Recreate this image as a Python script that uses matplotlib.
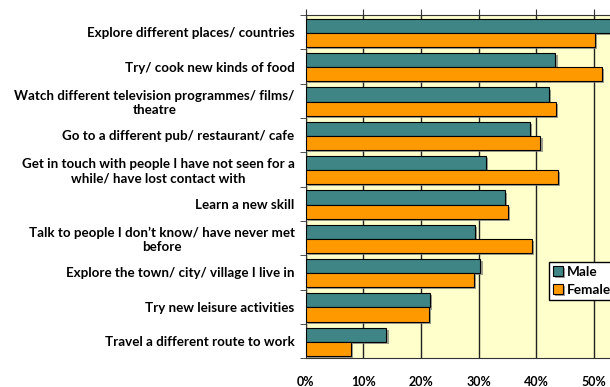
import matplotlib
matplotlib.use('Agg')
import matplotlib.pyplot as plt
import matplotlib.patheffects as pe
import numpy as np

categories = [
    'Explore different places/ countries',
    'Try/ cook new kinds of food',
    'Watch different television programmes/ films/\ntheatre',
    'Go to a different pub/ restaurant/ cafe',
    'Get in touch with people I have not seen for a\nwhile/ have lost contact with',
    'Learn a new skill',
    'Talk to people I don\u2019t know/ have never met\nbefore',
    'Explore the town/ city/ village I live in',
    'Try new leisure activities',
    'Travel a different route to work',
]
male = [54.0, 43.3, 42.2, 38.9, 31.3, 34.6, 29.4, 30.3, 21.5, 14.0]
female = [50.1, 51.4, 43.4, 40.7, 43.8, 35.1, 39.2, 29.1, 21.4, 7.9]
xticks = [0, 10, 20, 30, 40, 50]

plt.rcParams['font.family'] = ['Lato', 'DejaVu Sans']
plt.rcParams['font.weight'] = 'bold'

fig = plt.figure(figsize=(6.1, 3.87), dpi=100)
ax = fig.add_axes([0.5011, 0.0742, 0.5675, 0.887])
ax.set_facecolor('#ffffcc')

y = np.arange(len(categories))
shadow = [pe.SimplePatchShadow(offset=(1.5, -1.5), shadow_rgbFace='#777777', alpha=0.7), pe.Normal()]
b1 = ax.barh(y - 0.185, male, height=0.41, color='#3f8585', edgecolor='black', lw=0.8, label='Male', zorder=3)
b2 = ax.barh(y + 0.225, female, height=0.41, color='#ff9900', edgecolor='black', lw=0.8, label='Female', zorder=3)
for b in list(b1) + list(b2):
    b.set_path_effects(shadow)

ax.set_xlim(0, 60)
ax.set_ylim(len(categories) - 0.5, -0.5)
ax.set_xticks(xticks)
ax.set_xticklabels([f'{t}%' for t in xticks], fontsize=9, fontweight='bold')
for t in xticks:
    ax.axvline(t, color='#222222', lw=1, zorder=1)

ax.set_yticks(y)
ax.set_yticklabels(categories, fontsize=9.6, fontweight='bold', multialignment='center')
ax.set_yticks(np.arange(len(categories) + 1) - 0.5, minor=True)
ax.tick_params(axis='y', which='major', length=0, pad=8)
ax.tick_params(axis='y', which='minor', length=4, direction='out', color='#333333')
ax.tick_params(axis='x', which='major', top=True, bottom=False, length=4, pad=9, color='#333333')

for s in ax.spines.values():
    s.set_color('#333333')

fig.legend(loc='upper left', bbox_to_anchor=(549 / 610, 1 - 261.5 / 387), borderaxespad=0,
           frameon=True, fancybox=False, edgecolor='black', framealpha=1,
           handlelength=0.75, handleheight=0.75, handletextpad=0.25, borderpad=0.3,
           labelspacing=0.45, prop={'weight': 'bold', 'size': 9.8})

fig.savefig('out.png', dpi=100)
